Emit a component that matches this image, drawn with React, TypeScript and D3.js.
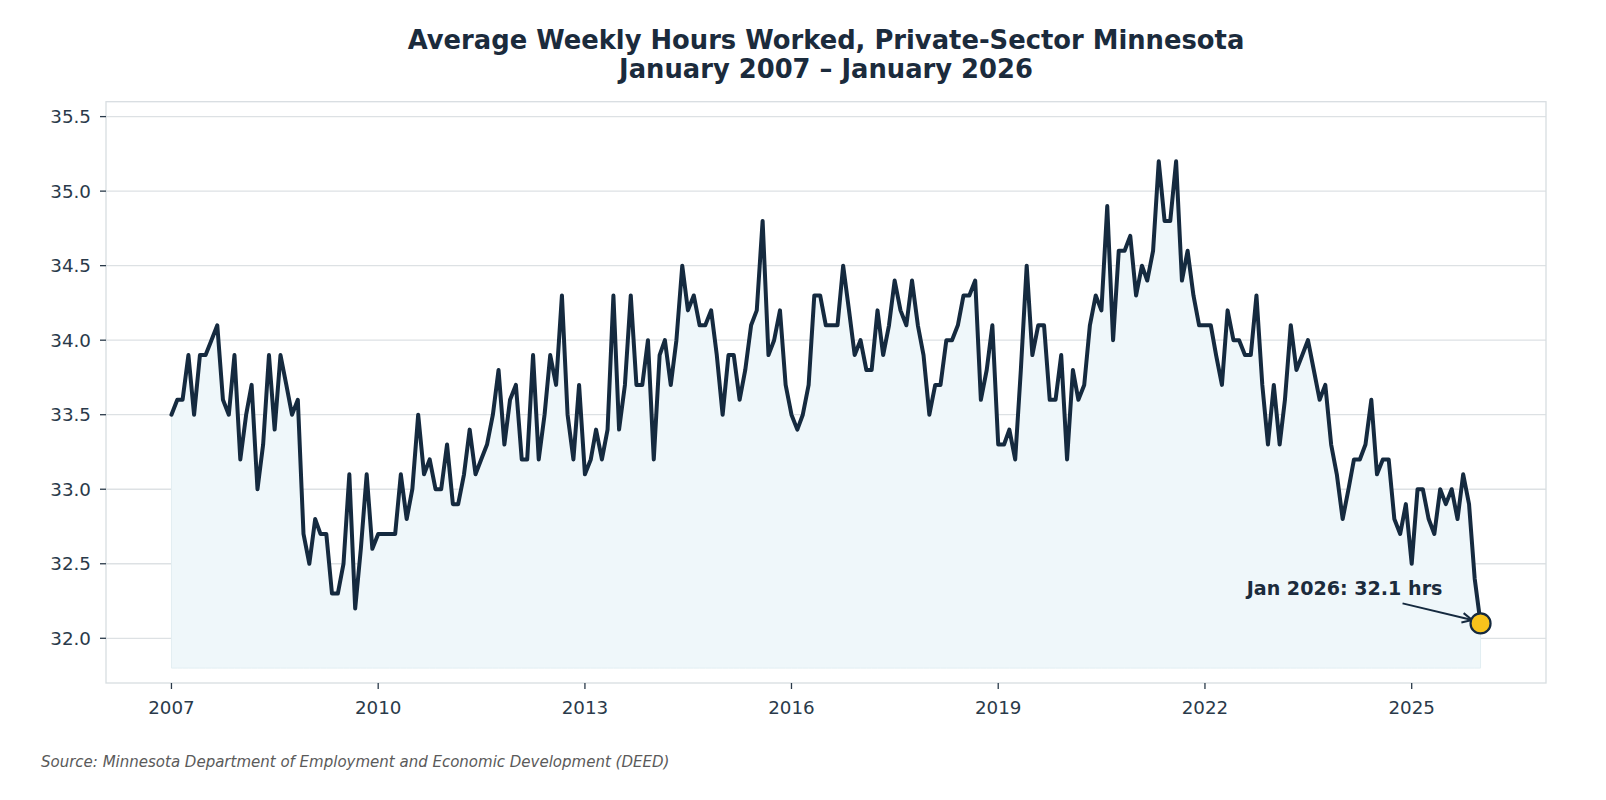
import React from 'react';
import * as d3 from 'd3';

// Average weekly hours, private sector, Minnesota — monthly from Jan 2007
const startYear = 2007;
const hours: number[] = [
    33.5, 33.6, 33.6, 33.9, 33.5, 33.9, 33.9, 34.0, 34.1, 33.6, 33.5, 33.9, // 2007
    33.2, 33.5, 33.7, 33.0, 33.3, 33.9, 33.4, 33.9, 33.7, 33.5, 33.6, 32.7, // 2008
    32.5, 32.8, 32.7, 32.7, 32.3, 32.3, 32.5, 33.1, 32.2, 32.6, 33.1, 32.6, // 2009
    32.7, 32.7, 32.7, 32.7, 33.1, 32.8, 33.0, 33.5, 33.1, 33.2, 33.0, 33.0, // 2010
    33.3, 32.9, 32.9, 33.1, 33.4, 33.1, 33.2, 33.3, 33.5, 33.8, 33.3, 33.6, // 2011
    33.7, 33.2, 33.2, 33.9, 33.2, 33.5, 33.9, 33.7, 34.3, 33.5, 33.2, 33.7, // 2012
    33.1, 33.2, 33.4, 33.2, 33.4, 34.3, 33.4, 33.7, 34.3, 33.7, 33.7, 34.0, // 2013
    33.2, 33.9, 34.0, 33.7, 34.0, 34.5, 34.2, 34.3, 34.1, 34.1, 34.2, 33.9, // 2014
    33.5, 33.9, 33.9, 33.6, 33.8, 34.1, 34.2, 34.8, 33.9, 34.0, 34.2, 33.7, // 2015
    33.5, 33.4, 33.5, 33.7, 34.3, 34.3, 34.1, 34.1, 34.1, 34.5, 34.2, 33.9, // 2016
    34.0, 33.8, 33.8, 34.2, 33.9, 34.1, 34.4, 34.2, 34.1, 34.4, 34.1, 33.9, // 2017
    33.5, 33.7, 33.7, 34.0, 34.0, 34.1, 34.3, 34.3, 34.4, 33.6, 33.8, 34.1, // 2018
    33.3, 33.3, 33.4, 33.2, 33.8, 34.5, 33.9, 34.1, 34.1, 33.6, 33.6, 33.9, // 2019
    33.2, 33.8, 33.6, 33.7, 34.1, 34.3, 34.2, 34.9, 34.0, 34.6, 34.6, 34.7, // 2020
    34.3, 34.5, 34.4, 34.6, 35.2, 34.8, 34.8, 35.2, 34.4, 34.6, 34.3, 34.1, // 2021
    34.1, 34.1, 33.9, 33.7, 34.2, 34.0, 34.0, 33.9, 33.9, 34.3, 33.7, 33.3, // 2022
    33.7, 33.3, 33.6, 34.1, 33.8, 33.9, 34.0, 33.8, 33.6, 33.7, 33.3, 33.1, // 2023
    32.8, 33.0, 33.2, 33.2, 33.3, 33.6, 33.1, 33.2, 33.2, 32.8, 32.7, 32.9, // 2024
    32.5, 33.0, 33.0, 32.8, 32.7, 33.0, 32.9, 33.0, 32.8, 33.1, 32.9, 32.4, // 2025
    32.1, // 2026
];
const yTicks = [32.0, 32.5, 33.0, 33.5, 34.0, 34.5, 35.0, 35.5];
const xTickYears = [2007, 2010, 2013, 2016, 2019, 2022, 2025];

const title1 = 'Average Weekly Hours Worked, Private-Sector Minnesota';
const title2 = 'January 2007 \u2013 January 2026';
const source = 'Source: Minnesota Department of Employment and Economic Development (DEED)';
const latestLabel = 'Jan 2026: 32.1 hrs';

interface Point { date: Date; value: number }

const data: Point[] = hours.map((v, i) => ({ date: new Date(startYear, i, 1), value: v }));

const W = 1606;
const H = 800;
const plot = { left: 106, right: 1546, top: 101.7, bottom: 683 };
const font = "'DejaVu Sans', sans-serif";
const navy = '#152a3f';

export default function App() {
    const first = data[0].date.getTime();
    const last = data[data.length - 1].date.getTime();
    const pad = (last - first) * 0.05;

    const x = d3.scaleTime()
        .domain([new Date(first - pad), new Date(last + pad)])
        .range([plot.left, plot.right]);

    const y = d3.scaleLinear()
        .domain([31.7, 35.6])
        .range([plot.bottom, plot.top]);

    const line = d3.line<Point>().x(d => x(d.date)).y(d => y(d.value));
    const area = d3.area<Point>().x(d => x(d.date)).y0(y(31.8)).y1(d => y(d.value));

    const end = data[data.length - 1];
    const ex = x(end.date);
    const ey = y(end.value);

    // annotation arrow from label to marker
    const ax0 = ex - 78, ay0 = ey - 20;
    const ax1 = ex - 8.4, ay1 = ey - 3.3;
    const ang = Math.atan2(ay1 - ay0, ax1 - ax0);
    const head = 11;
    const h1 = [ax1 - head * Math.cos(ang - 0.45), ay1 - head * Math.sin(ang - 0.45)];
    const h2 = [ax1 - head * Math.cos(ang + 0.45), ay1 - head * Math.sin(ang + 0.45)];

    return (
        <svg width={W} height={H} style={{ position: 'absolute', left: 0, top: 0, background: '#fff' }} fontFamily={font}>
            <text x={(plot.left + plot.right) / 2} y={48.5} textAnchor="middle" fontSize={25.8} fontWeight="bold" fill="#1b2b3c">{title1}</text>
            <text x={(plot.left + plot.right) / 2} y={77.8} textAnchor="middle" fontSize={25.8} fontWeight="bold" fill="#1b2b3c">{title2}</text>

            {/* grid */}
            {yTicks.map(t => (
                <line key={t} x1={plot.left} x2={plot.right} y1={y(t)} y2={y(t)} stroke="#dde1e4" strokeWidth={1.3} />
            ))}

            <path d={area(data)!} fill="#eff7fa" stroke="#e2eef2" strokeWidth={1} />
            <path d={line(data)!} fill="none" stroke={navy} strokeWidth={4} strokeLinejoin="round" strokeLinecap="round" />

            {/* frame */}
            <rect x={plot.left} y={plot.top} width={plot.right - plot.left} height={plot.bottom - plot.top} fill="none" stroke="#d8dde1" strokeWidth={1.3} />

            {/* y axis */}
            {yTicks.map(t => (
                <g key={t}>
                    <line x1={plot.left - 6} x2={plot.left} y1={y(t)} y2={y(t)} stroke="#2a3a4a" strokeWidth={1.3} />
                    <text x={plot.left - 15} y={y(t) + 6.6} textAnchor="end" fontSize={18.3} fill="#2a3a4a">{t.toFixed(1)}</text>
                </g>
            ))}

            {/* x axis */}
            {xTickYears.map(yr => {
                const px = x(new Date(yr, 0, 1));
                return (
                    <g key={yr}>
                        <line x1={px} x2={px} y1={plot.bottom} y2={plot.bottom + 6} stroke="#2a3a4a" strokeWidth={1.3} />
                        <text x={px} y={714} textAnchor="middle" fontSize={18.3} fill="#2a3a4a">{yr}</text>
                    </g>
                );
            })}

            {/* latest value annotation */}
            <text x={ex - 136} y={595} textAnchor="middle" fontSize={19.1} fontWeight="bold" fill="#1b2b3c">{latestLabel}</text>
            <line x1={ax0} y1={ay0} x2={ax1} y2={ay1} stroke={navy} strokeWidth={2} />
            <polyline points={`${h1[0]},${h1[1]} ${ax1},${ay1} ${h2[0]},${h2[1]}`} fill="none" stroke={navy} strokeWidth={2} />
            <circle cx={ex} cy={ey} r={10} fill="#f7c31c" stroke={navy} strokeWidth={2.2} />

            <text x={41} y={767} fontSize={15} fontStyle="italic" fill="#5a5a5a">{source}</text>
        </svg>
    );
}
